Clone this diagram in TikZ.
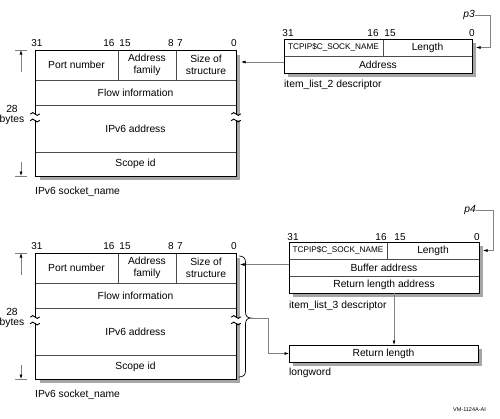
\documentclass[tikz,border=0pt]{standalone}
\usepackage{fontspec}
\setmainfont{Liberation Sans}
\usetikzlibrary{arrows.meta,calc}
\tikzset{
  txt/.style={font=\fontsize{10.3}{12.5}\selectfont, inner sep=0pt},
  cell/.style={anchor=north west, inner sep=0pt, outer sep=0pt, fill=white,
    draw=black!70, line width=0.6pt, align=center, font=\fontsize{10.3}{12.5}\selectfont},
  smallcell/.style={cell, font=\fontsize{8.2}{10}\selectfont},
  frame/.style={anchor=north west, inner sep=0pt, outer sep=0pt, draw=black, line width=0.9pt},
  shade/.style={fill=black!35, draw=none},
  bit/.style={font=\fontsize{10}{12}\selectfont, inner sep=0pt},
  captxt/.style={anchor=west, font=\fontsize{10.3}{12.5}\selectfont, inner sep=0pt},
  conn/.style={draw=black!50, line width=0.6pt},
  arr/.style={-{Latex[length=4.5pt,width=3pt,color=black]}},
  tick/.style={line width=0.9pt, line cap=round}
}
\newcommand{\SockBox}[2]{%
  \fill[shade] (40,#2+55) rectangle (240,#2+180);
  \node[cell, minimum width=83, minimum height=30] (#1port) at (35,#2+50) {Port number};
  \node[cell, minimum width=58, minimum height=30] (#1fam) at (118,#2+50) {Address\\family};
  \node[cell, minimum width=60, minimum height=30] (#1size) at (176,#2+50) {Size of\\structure};
  \node[cell, minimum width=201, minimum height=25] (#1flow) at (35,#2+80) {Flow information};
  \node[cell, minimum width=201, minimum height=47] (#1ip) at (35,#2+105) {IPv6 address};
  \node[cell, minimum width=201, minimum height=24] (#1scope) at (35,#2+152) {Scope id};
  \node[frame, minimum width=201, minimum height=126] (#1) at (35,#2+50) {};
  % bit numbers
  \node[bit] (#1b31) at (37,#2+43.5) {31};
  \node[bit] (#1b16) at (109,#2+43.5) {16};
  \node[bit] (#1b15) at (125,#2+43.5) {15};
  \node[bit] (#1b8) at (171,#2+43.5) {8};
  \node[bit] (#1b7) at (180,#2+43.5) {7};
  \node[bit] (#1b0) at (234,#2+43.5) {0};
  % break marks
  \fill[white] (30,#2+114.5) rectangle (40,#2+119.5);
  \fill[white] (231,#2+114.5) rectangle (242,#2+119.5);
  \foreach \xx in {35,236}{
    \draw[tick] (\xx-4.5,#2+114) sin (\xx-2.25,#2+112.6) cos (\xx,#2+114) sin (\xx+2.25,#2+115.4) cos (\xx+4.5,#2+114);
    \draw[tick] (\xx-4.5,#2+120.5) sin (\xx-2.25,#2+119.1) cos (\xx,#2+120.5) sin (\xx+2.25,#2+121.9) cos (\xx+4.5,#2+120.5);
  }
  % size dimension
  \node[txt, align=center, font=\fontsize{10.3}{10}\selectfont] (#1dim) at (12,#2+115) {28\\bytes};
  \coordinate (#1dtop) at (21,#2+50);
  \coordinate (#1dbot) at (21,#2+176);
  \draw[conn] ([xshift=-6pt]#1dtop) -- ([xshift=6pt]#1dtop);
  \draw[conn] ([xshift=-6pt]#1dbot) -- ([xshift=6pt]#1dbot);
  \draw[conn,arr] (21,#2+72) -- (#1dtop);
  \draw[conn,arr] (21,#2+162) -- (#1dbot);
  \node[captxt] (#1cap) at (35,#2+191.5) {IPv6 socket\_name};
}
\begin{document}
\begin{tikzpicture}[x=1pt,y=-1pt]
\useasboundingbox (0,0) rectangle (500,418);
\fill[white] (0,0) rectangle (500,418);

\SockBox{s1}{0}
\SockBox{s2}{203}

% item_list_2 descriptor
\fill[shade] (288,43) rectangle (476,77);
\node[smallcell, minimum width=99, minimum height=17] (d2name) at (284,39) {TCPIP\$C\_SOCK\_NAME};
\node[cell, minimum width=89, minimum height=17] (d2len) at (383,39) {Length};
\node[cell, minimum width=188, minimum height=17] (d2addr) at (284,56) {Address};
\node[frame, minimum width=188, minimum height=34] (d2) at (284,39) {};
\node[bit] (d2b31) at (288,33) {31};
\node[bit] (d2b16) at (373,33) {16};
\node[bit] (d2b15) at (390,33) {15};
\node[bit] (d2b0) at (472,33) {0};
\node[captxt] (d2cap) at (284,85) {item\_list\_2 descriptor};
\node[txt, font=\fontsize{10.3}{12}\selectfont\itshape] (p3) at (469,15) {p3};
\draw[conn,arr] (p3.east) -- ++(15,0) |- ([xshift=4pt]d2len.east);
\draw[conn,arr] ([yshift=2.5pt]d2addr.west) -- ([xshift=5pt,yshift=2.5pt]s1.east |- d2addr.west);

% item_list_3 descriptor
\fill[shade] (293,246) rectangle (483,297);
\node[smallcell, minimum width=98, minimum height=17] (d3name) at (289,242) {TCPIP\$C\_SOCK\_NAME};
\node[cell, minimum width=92, minimum height=17] (d3len) at (387,242) {Length};
\node[cell, minimum width=190, minimum height=17] (d3buf) at (289,259) {Buffer address};
\node[cell, minimum width=190, minimum height=17] (d3ret) at (289,276) {Return length address};
\node[frame, minimum width=190, minimum height=51] (d3) at (289,242) {};
\node[bit] (d3b31) at (293,237) {31};
\node[bit] (d3b16) at (381,237) {16};
\node[bit] (d3b15) at (400,237) {15};
\node[bit] (d3b0) at (477,237) {0};
\node[captxt] (d3cap) at (289,306) {item\_list\_3 descriptor};
\node[txt, font=\fontsize{10.3}{12}\selectfont\itshape] (p4) at (470,210) {p4};
\draw[conn,arr] (p4.east) -- ++(17,0) |- ([xshift=4pt]d3len.east);
\draw[conn,arr] ([yshift=3pt]d3buf.west) -- ([xshift=4pt,yshift=3pt]s2.east |- d3buf.west);

% return length longword
\fill[shade] (293,349) rectangle (482,366);
\node[cell, draw=black, line width=0.9pt, minimum width=189, minimum height=17] (rl) at (289,345) {Return length};
\node[captxt] (rlcap) at (289,373) {longword};

% brace
\draw[line width=0.7pt] (239,256) .. controls (243,256) and (245.5,258) .. (245.5,262)
  -- (245.5,312) .. controls (245.5,316) and (247.5,318) .. (251,318)
  .. controls (247.5,318) and (245.5,320) .. (245.5,324)
  -- (245.5,371) .. controls (245.5,375) and (243,377) .. (239,377);
\coordinate (bt) at (251,318);
\draw[conn,arr] (bt) -- ++(17,0) |- (rl.west);
\draw[conn,arr] ([xshift=10pt]d3.south) -- ([xshift=10.5pt]rl.north);

\node[anchor=west, font=\fontsize{5.5}{6}\selectfont, inner sep=0pt] (vm) at (453,410) {VM-1124A-AI};
\end{tikzpicture}
\end{document}
